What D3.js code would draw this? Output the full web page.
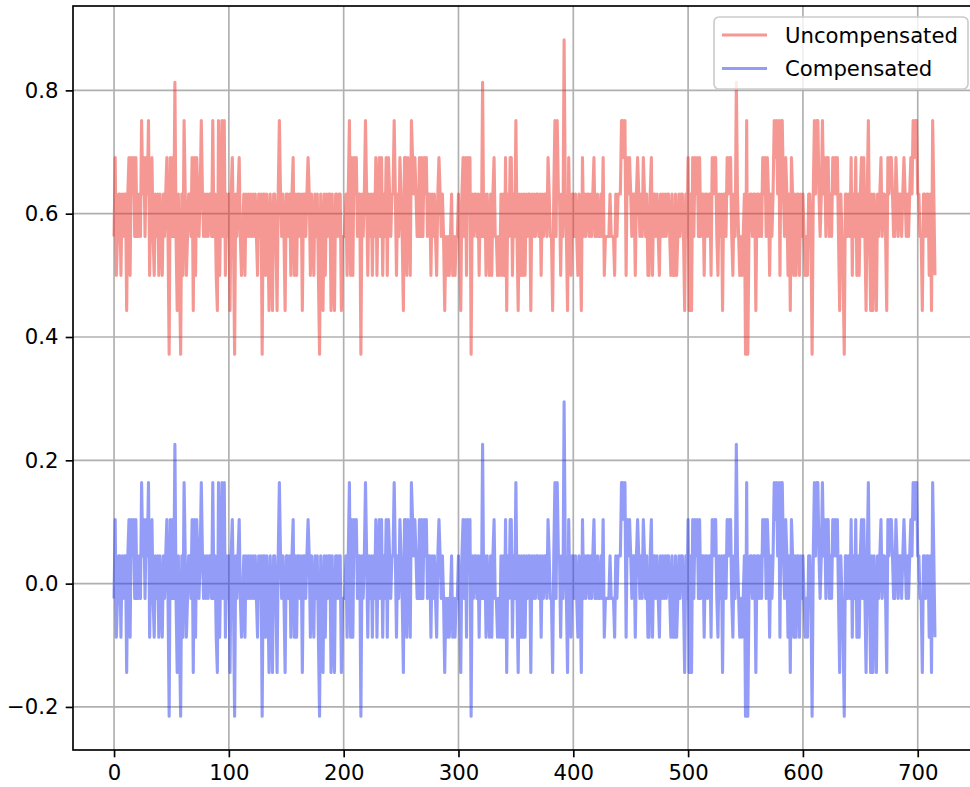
<!DOCTYPE html>
<html>
<head>
<meta charset="utf-8">
<script src="https://cdn.jsdelivr.net/npm/d3@7"></script>
<style>
  body { margin: 0; background: #fff; }
  svg { display: block; font-family: "DejaVu Sans", sans-serif; }
</style>
</head>
<body>
<div class="chart"></div>
<script>
// values (one sample per index)
var uncompensated = [
  0.563, 0.691, 0.5, 0.563, 0.632, 0.632, 0.5, 0.632, 0.563, 0.632, 0.632, 0.443, 0.632, 0.691, 0.5, 0.691, 0.632, 0.691, 0.563, 0.691,
  0.563, 0.563, 0.632, 0.563, 0.751, 0.632, 0.691, 0.563, 0.691, 0.632, 0.751, 0.5, 0.632, 0.691, 0.563, 0.5, 0.632, 0.563, 0.632, 0.5,
  0.632, 0.563, 0.5, 0.632, 0.563, 0.632, 0.691, 0.563, 0.372, 0.691, 0.563, 0.691, 0.563, 0.813, 0.563, 0.443, 0.632, 0.5, 0.372, 0.632,
  0.5, 0.751, 0.632, 0.5, 0.563, 0.632, 0.632, 0.563, 0.691, 0.443, 0.691, 0.5, 0.691, 0.632, 0.563, 0.632, 0.751, 0.632, 0.563, 0.632,
  0.563, 0.632, 0.563, 0.632, 0.632, 0.563, 0.751, 0.563, 0.632, 0.5, 0.443, 0.751, 0.5, 0.632, 0.751, 0.563, 0.751, 0.5, 0.632, 0.563,
  0.632, 0.443, 0.632, 0.691, 0.563, 0.372, 0.632, 0.563, 0.632, 0.691, 0.563, 0.5, 0.563, 0.632, 0.5, 0.632, 0.563, 0.632, 0.563, 0.632,
  0.563, 0.632, 0.563, 0.632, 0.563, 0.5, 0.632, 0.563, 0.632, 0.372, 0.632, 0.632, 0.5, 0.632, 0.563, 0.443, 0.632, 0.563, 0.443, 0.632,
  0.632, 0.563, 0.443, 0.632, 0.751, 0.632, 0.563, 0.632, 0.563, 0.443, 0.632, 0.632, 0.563, 0.632, 0.5, 0.632, 0.691, 0.5, 0.632, 0.5,
  0.632, 0.632, 0.563, 0.632, 0.443, 0.632, 0.632, 0.563, 0.632, 0.691, 0.632, 0.5, 0.632, 0.563, 0.5, 0.632, 0.563, 0.632, 0.5, 0.372,
  0.632, 0.563, 0.443, 0.632, 0.5, 0.632, 0.563, 0.632, 0.632, 0.443, 0.632, 0.5, 0.443, 0.632, 0.632, 0.563, 0.632, 0.632, 0.443, 0.563,
  0.563, 0.563, 0.632, 0.5, 0.632, 0.751, 0.5, 0.691, 0.5, 0.691, 0.632, 0.691, 0.563, 0.632, 0.632, 0.372, 0.632, 0.563, 0.632, 0.751,
  0.632, 0.5, 0.632, 0.563, 0.632, 0.5, 0.632, 0.563, 0.691, 0.5, 0.632, 0.691, 0.563, 0.691, 0.5, 0.632, 0.563, 0.691, 0.5, 0.691,
  0.632, 0.563, 0.632, 0.632, 0.751, 0.632, 0.5, 0.632, 0.563, 0.691, 0.632, 0.563, 0.443, 0.691, 0.691, 0.5, 0.691, 0.632, 0.5, 0.751,
  0.691, 0.632, 0.691, 0.632, 0.563, 0.563, 0.691, 0.563, 0.691, 0.563, 0.691, 0.632, 0.691, 0.563, 0.632, 0.632, 0.5, 0.632, 0.563, 0.632,
  0.563, 0.5, 0.632, 0.691, 0.632, 0.563, 0.632, 0.563, 0.443, 0.563, 0.5, 0.563, 0.5, 0.563, 0.632, 0.5, 0.563, 0.5, 0.563, 0.563,
  0.632, 0.563, 0.443, 0.632, 0.691, 0.563, 0.691, 0.5, 0.691, 0.632, 0.691, 0.372, 0.632, 0.563, 0.632, 0.632, 0.563, 0.632, 0.5, 0.632,
  0.563, 0.813, 0.563, 0.632, 0.5, 0.632, 0.563, 0.5, 0.632, 0.5, 0.632, 0.691, 0.563, 0.563, 0.5, 0.563, 0.5, 0.632, 0.5, 0.632,
  0.5, 0.691, 0.443, 0.632, 0.563, 0.691, 0.691, 0.5, 0.632, 0.563, 0.751, 0.563, 0.443, 0.632, 0.5, 0.632, 0.5, 0.632, 0.5, 0.632,
  0.563, 0.632, 0.632, 0.443, 0.632, 0.563, 0.632, 0.563, 0.632, 0.632, 0.563, 0.632, 0.5, 0.632, 0.563, 0.632, 0.632, 0.563, 0.691, 0.632,
  0.563, 0.563, 0.443, 0.632, 0.751, 0.563, 0.751, 0.632, 0.632, 0.5, 0.632, 0.563, 0.882, 0.632, 0.563, 0.443, 0.691, 0.563, 0.5, 0.632,
  0.632, 0.563, 0.632, 0.563, 0.5, 0.632, 0.563, 0.443, 0.691, 0.563, 0.632, 0.563, 0.632, 0.632, 0.563, 0.632, 0.563, 0.632, 0.691, 0.563,
  0.563, 0.632, 0.563, 0.563, 0.632, 0.563, 0.691, 0.5, 0.563, 0.563, 0.563, 0.563, 0.632, 0.563, 0.563, 0.563, 0.5, 0.632, 0.563, 0.632,
  0.632, 0.632, 0.751, 0.751, 0.691, 0.751, 0.5, 0.691, 0.632, 0.691, 0.632, 0.563, 0.632, 0.632, 0.5, 0.632, 0.691, 0.632, 0.563, 0.632,
  0.563, 0.691, 0.632, 0.563, 0.632, 0.5, 0.5, 0.632, 0.691, 0.5, 0.632, 0.632, 0.563, 0.632, 0.563, 0.5, 0.632, 0.563, 0.632, 0.563,
  0.632, 0.563, 0.632, 0.632, 0.563, 0.5, 0.632, 0.5, 0.5, 0.632, 0.5, 0.563, 0.632, 0.563, 0.632, 0.632, 0.563, 0.443, 0.632, 0.563,
  0.691, 0.443, 0.632, 0.443, 0.691, 0.563, 0.691, 0.632, 0.691, 0.563, 0.691, 0.563, 0.632, 0.632, 0.5, 0.632, 0.632, 0.563, 0.632, 0.632,
  0.5, 0.691, 0.632, 0.691, 0.691, 0.563, 0.5, 0.632, 0.563, 0.632, 0.443, 0.632, 0.632, 0.563, 0.691, 0.632, 0.691, 0.691, 0.563, 0.5,
  0.632, 0.563, 0.813, 0.632, 0.563, 0.5, 0.563, 0.5, 0.563, 0.632, 0.372, 0.751, 0.372, 0.563, 0.632, 0.632, 0.563, 0.632, 0.632, 0.443,
  0.632, 0.632, 0.563, 0.632, 0.563, 0.691, 0.632, 0.691, 0.563, 0.691, 0.632, 0.5, 0.632, 0.563, 0.632, 0.751, 0.691, 0.751, 0.632, 0.751,
  0.5, 0.751, 0.751, 0.632, 0.563, 0.691, 0.632, 0.5, 0.632, 0.443, 0.691, 0.632, 0.5, 0.632, 0.5, 0.632, 0.632, 0.5, 0.632, 0.563,
  0.632, 0.563, 0.5, 0.563, 0.5, 0.632, 0.632, 0.563, 0.372, 0.632, 0.751, 0.632, 0.751, 0.751, 0.632, 0.563, 0.632, 0.751, 0.632, 0.691,
  0.563, 0.691, 0.691, 0.563, 0.632, 0.563, 0.691, 0.632, 0.691, 0.632, 0.691, 0.563, 0.443, 0.632, 0.563, 0.5, 0.372, 0.632, 0.632, 0.563,
  0.632, 0.563, 0.691, 0.5, 0.632, 0.563, 0.691, 0.5, 0.632, 0.5, 0.632, 0.691, 0.563, 0.691, 0.563, 0.443, 0.632, 0.751, 0.563, 0.443,
  0.632, 0.443, 0.632, 0.563, 0.443, 0.632, 0.563, 0.632, 0.691, 0.563, 0.632, 0.632, 0.563, 0.443, 0.691, 0.632, 0.691, 0.691, 0.632, 0.563,
  0.563, 0.691, 0.632, 0.563, 0.632, 0.632, 0.563, 0.632, 0.691, 0.632, 0.563, 0.632, 0.563, 0.632, 0.691, 0.632, 0.751, 0.691, 0.751, 0.751,
  0.632, 0.632, 0.563, 0.563, 0.443, 0.632, 0.632, 0.563, 0.632, 0.632, 0.5, 0.632, 0.443, 0.751, 0.632, 0.5
];

var compensated = [
  -0.024, 0.104, -0.087, -0.024, 0.045, 0.045, -0.087, 0.045, -0.024, 0.045, 0.045, -0.144, 0.045, 0.104, -0.087, 0.104, 0.045, 0.104, -0.024, 0.104,
  -0.024, -0.024, 0.045, -0.024, 0.164, 0.045, 0.104, -0.024, 0.104, 0.045, 0.164, -0.087, 0.045, 0.104, -0.024, -0.087, 0.045, -0.024, 0.045, -0.087,
  0.045, -0.024, -0.087, 0.045, -0.024, 0.045, 0.104, -0.024, -0.215, 0.104, -0.024, 0.104, -0.024, 0.226, -0.024, -0.144, 0.045, -0.087, -0.215, 0.045,
  -0.087, 0.164, 0.045, -0.087, -0.024, 0.045, 0.045, -0.024, 0.104, -0.144, 0.104, -0.087, 0.104, 0.045, -0.024, 0.045, 0.164, 0.045, -0.024, 0.045,
  -0.024, 0.045, -0.024, 0.045, 0.045, -0.024, 0.164, -0.024, 0.045, -0.087, -0.144, 0.164, -0.087, 0.045, 0.164, -0.024, 0.164, -0.087, 0.045, -0.024,
  0.045, -0.144, 0.045, 0.104, -0.024, -0.215, 0.045, -0.024, 0.045, 0.104, -0.024, -0.087, -0.024, 0.045, -0.087, 0.045, -0.024, 0.045, -0.024, 0.045,
  -0.024, 0.045, -0.024, 0.045, -0.024, -0.087, 0.045, -0.024, 0.045, -0.215, 0.045, 0.045, -0.087, 0.045, -0.024, -0.144, 0.045, -0.024, -0.144, 0.045,
  0.045, -0.024, -0.144, 0.045, 0.164, 0.045, -0.024, 0.045, -0.024, -0.144, 0.045, 0.045, -0.024, 0.045, -0.087, 0.045, 0.104, -0.087, 0.045, -0.087,
  0.045, 0.045, -0.024, 0.045, -0.144, 0.045, 0.045, -0.024, 0.045, 0.104, 0.045, -0.087, 0.045, -0.024, -0.087, 0.045, -0.024, 0.045, -0.087, -0.215,
  0.045, -0.024, -0.144, 0.045, -0.087, 0.045, -0.024, 0.045, 0.045, -0.144, 0.045, -0.087, -0.144, 0.045, 0.045, -0.024, 0.045, 0.045, -0.144, -0.024,
  -0.024, -0.024, 0.045, -0.087, 0.045, 0.164, -0.087, 0.104, -0.087, 0.104, 0.045, 0.104, -0.024, 0.045, 0.045, -0.215, 0.045, -0.024, 0.045, 0.164,
  0.045, -0.087, 0.045, -0.024, 0.045, -0.087, 0.045, -0.024, 0.104, -0.087, 0.045, 0.104, -0.024, 0.104, -0.087, 0.045, -0.024, 0.104, -0.087, 0.104,
  0.045, -0.024, 0.045, 0.045, 0.164, 0.045, -0.087, 0.045, -0.024, 0.104, 0.045, -0.024, -0.144, 0.104, 0.104, -0.087, 0.104, 0.045, -0.087, 0.164,
  0.104, 0.045, 0.104, 0.045, -0.024, -0.024, 0.104, -0.024, 0.104, -0.024, 0.104, 0.045, 0.104, -0.024, 0.045, 0.045, -0.087, 0.045, -0.024, 0.045,
  -0.024, -0.087, 0.045, 0.104, 0.045, -0.024, 0.045, -0.024, -0.144, -0.024, -0.087, -0.024, -0.087, -0.024, 0.045, -0.087, -0.024, -0.087, -0.024, -0.024,
  0.045, -0.024, -0.144, 0.045, 0.104, -0.024, 0.104, -0.087, 0.104, 0.045, 0.104, -0.215, 0.045, -0.024, 0.045, 0.045, -0.024, 0.045, -0.087, 0.045,
  -0.024, 0.226, -0.024, 0.045, -0.087, 0.045, -0.024, -0.087, 0.045, -0.087, 0.045, 0.104, -0.024, -0.024, -0.087, -0.024, -0.087, 0.045, -0.087, 0.045,
  -0.087, 0.104, -0.144, 0.045, -0.024, 0.104, 0.104, -0.087, 0.045, -0.024, 0.164, -0.024, -0.144, 0.045, -0.087, 0.045, -0.087, 0.045, -0.087, 0.045,
  -0.024, 0.045, 0.045, -0.144, 0.045, -0.024, 0.045, -0.024, 0.045, 0.045, -0.024, 0.045, -0.087, 0.045, -0.024, 0.045, 0.045, -0.024, 0.104, 0.045,
  -0.024, -0.024, -0.144, 0.045, 0.164, -0.024, 0.164, 0.045, 0.045, -0.087, 0.045, -0.024, 0.295, 0.045, -0.024, -0.144, 0.104, -0.024, -0.087, 0.045,
  0.045, -0.024, 0.045, -0.024, -0.087, 0.045, -0.024, -0.144, 0.104, -0.024, 0.045, -0.024, 0.045, 0.045, -0.024, 0.045, -0.024, 0.045, 0.104, -0.024,
  -0.024, 0.045, -0.024, -0.024, 0.045, -0.024, 0.104, -0.087, -0.024, -0.024, -0.024, -0.024, 0.045, -0.024, -0.024, -0.024, -0.087, 0.045, -0.024, 0.045,
  0.045, 0.045, 0.164, 0.164, 0.104, 0.164, -0.087, 0.104, 0.045, 0.104, 0.045, -0.024, 0.045, 0.045, -0.087, 0.045, 0.104, 0.045, -0.024, 0.045,
  -0.024, 0.104, 0.045, -0.024, 0.045, -0.087, -0.087, 0.045, 0.104, -0.087, 0.045, 0.045, -0.024, 0.045, -0.024, -0.087, 0.045, -0.024, 0.045, -0.024,
  0.045, -0.024, 0.045, 0.045, -0.024, -0.087, 0.045, -0.087, -0.087, 0.045, -0.087, -0.024, 0.045, -0.024, 0.045, 0.045, -0.024, -0.144, 0.045, -0.024,
  0.104, -0.144, 0.045, -0.144, 0.104, -0.024, 0.104, 0.045, 0.104, -0.024, 0.104, -0.024, 0.045, 0.045, -0.087, 0.045, 0.045, -0.024, 0.045, 0.045,
  -0.087, 0.104, 0.045, 0.104, 0.104, -0.024, -0.087, 0.045, -0.024, 0.045, -0.144, 0.045, 0.045, -0.024, 0.104, 0.045, 0.104, 0.104, -0.024, -0.087,
  0.045, -0.024, 0.226, 0.045, -0.024, -0.087, -0.024, -0.087, -0.024, 0.045, -0.215, 0.164, -0.215, -0.024, 0.045, 0.045, -0.024, 0.045, 0.045, -0.144,
  0.045, 0.045, -0.024, 0.045, -0.024, 0.104, 0.045, 0.104, -0.024, 0.104, 0.045, -0.087, 0.045, -0.024, 0.045, 0.164, 0.104, 0.164, 0.045, 0.164,
  -0.087, 0.164, 0.164, 0.045, -0.024, 0.104, 0.045, -0.087, 0.045, -0.144, 0.104, 0.045, -0.087, 0.045, -0.087, 0.045, 0.045, -0.087, 0.045, -0.024,
  0.045, -0.024, -0.087, -0.024, -0.087, 0.045, 0.045, -0.024, -0.215, 0.045, 0.164, 0.045, 0.164, 0.164, 0.045, -0.024, 0.045, 0.164, 0.045, 0.104,
  -0.024, 0.104, 0.104, -0.024, 0.045, -0.024, 0.104, 0.045, 0.104, 0.045, 0.104, -0.024, -0.144, 0.045, -0.024, -0.087, -0.215, 0.045, 0.045, -0.024,
  0.045, -0.024, 0.104, -0.087, 0.045, -0.024, 0.104, -0.087, 0.045, -0.087, 0.045, 0.104, -0.024, 0.104, -0.024, -0.144, 0.045, 0.164, -0.024, -0.144,
  0.045, -0.144, 0.045, -0.024, -0.144, 0.045, -0.024, 0.045, 0.104, -0.024, 0.045, 0.045, -0.024, -0.144, 0.104, 0.045, 0.104, 0.104, 0.045, -0.024,
  -0.024, 0.104, 0.045, -0.024, 0.045, 0.045, -0.024, 0.045, 0.104, 0.045, -0.024, 0.045, -0.024, 0.045, 0.104, 0.045, 0.164, 0.104, 0.164, 0.164,
  0.045, 0.045, -0.024, -0.024, -0.144, 0.045, 0.045, -0.024, 0.045, 0.045, -0.087, 0.045, -0.144, 0.164, 0.045, -0.087
];

var seriesNames = ["Uncompensated", "Compensated"];
var seriesColors = ["rgb(235,50,40)", "rgb(40,60,240)"];

var xTicks = [0, 100, 200, 300, 400, 500, 600, 700];
var yTicks = [-0.2, 0.0, 0.2, 0.4, 0.6, 0.8];
var yTickLabels = ["\u22120.2", "0.0", "0.2", "0.4", "0.6", "0.8"];

var svgWidth = 970;
var svgHeight = 787;

// axes box (right edge falls just outside the picture, as in the reference)
var plot = { left: 73, top: 6, right: 976, bottom: 750 };

var fontSize = 21.2;
var lw = 1.67;

var svg = d3
  .select(".chart")
  .append("svg")
  .attr("width", svgWidth)
  .attr("height", svgHeight);

// matplotlib-like 5% margins around the data
var n = uncompensated.length;
var xPad = (n - 1) * 0.05;
var xScale = d3.scaleLinear()
  .domain([-xPad, n - 1 + xPad])
  .range([plot.left, plot.right]);

var yMin = d3.min(compensated);
var yMax = d3.max(uncompensated);
var yPad = (yMax - yMin) * 0.05;
var yScale = d3.scaleLinear()
  .domain([yMin - yPad, yMax + yPad])
  .range([plot.bottom, plot.top]);

svg.append("defs").append("clipPath").attr("id", "clip")
  .append("rect")
  .attr("x", plot.left).attr("y", plot.top)
  .attr("width", plot.right - plot.left)
  .attr("height", plot.bottom - plot.top);

// grid
var grid = svg.append("g").attr("class", "grid");
grid.selectAll(".vgrid").data(xTicks).enter().append("line")
  .attr("x1", function(d) { return xScale(d); })
  .attr("x2", function(d) { return xScale(d); })
  .attr("y1", plot.top).attr("y2", plot.bottom)
  .attr("stroke", "#b0b0b0").attr("stroke-width", lw);
grid.selectAll(".hgrid").data(yTicks).enter().append("line")
  .attr("x1", plot.left).attr("x2", plot.right)
  .attr("y1", function(d) { return yScale(d); })
  .attr("y2", function(d) { return yScale(d); })
  .attr("stroke", "#b0b0b0").attr("stroke-width", lw);

// series lines
var line = d3.line()
  .x(function(d, i) { return xScale(i); })
  .y(function(d) { return yScale(d); });

var seriesData = [uncompensated, compensated];
svg.append("g").attr("clip-path", "url(#clip)")
  .selectAll("path").data(seriesData).enter().append("path")
  .attr("d", line)
  .attr("fill", "none")
  .attr("stroke", function(d, i) { return seriesColors[i]; })
  .attr("stroke-opacity", 0.5)
  .attr("stroke-width", 3.1)
  .attr("stroke-linejoin", "round");

// axes
var bottomAxis = d3.axisBottom(xScale)
  .tickValues(xTicks)
  .tickSizeInner(7.3).tickSizeOuter(0).tickPadding(7.3)
  .tickFormat(d3.format("d"));
var leftAxis = d3.axisLeft(yScale)
  .tickValues(yTicks)
  .tickSizeInner(7.3).tickSizeOuter(0).tickPadding(7.3)
  .tickFormat(function(d, i) { return yTickLabels[i]; });

var gx = svg.append("g")
  .attr("transform", "translate(0," + plot.bottom + ")")
  .call(bottomAxis);
var gy = svg.append("g")
  .attr("transform", "translate(" + plot.left + ",0)")
  .call(leftAxis);

[gx, gy].forEach(function(g) {
  g.select(".domain").remove();
  g.selectAll(".tick line").attr("stroke", "#000").attr("stroke-width", lw);
  g.selectAll(".tick text")
    .attr("fill", "#000")
    .style("font-family", "'DejaVu Sans', sans-serif")
    .style("font-size", fontSize + "px");
});

// spines
svg.append("rect")
  .attr("x", plot.left).attr("y", plot.top)
  .attr("width", plot.right - plot.left)
  .attr("height", plot.bottom - plot.top)
  .attr("fill", "none")
  .attr("stroke", "#000")
  .attr("stroke-width", lw);

// legend
var legend = svg.append("g");
legend.append("rect")
  .attr("x", 714).attr("y", 17)
  .attr("width", 254).attr("height", 72)
  .attr("rx", 5)
  .attr("fill", "#fff").attr("fill-opacity", 0.8)
  .attr("stroke", "#cccccc").attr("stroke-width", lw);

var legendRows = legend.selectAll(".item").data(seriesNames).enter().append("g")
  .attr("transform", function(d, i) { return "translate(0," + (35 + i * 33.5) + ")"; });
legendRows.append("line")
  .attr("x1", 722).attr("x2", 767)
  .attr("y1", 0).attr("y2", 0)
  .attr("stroke", function(d, i) { return seriesColors[i]; })
  .attr("stroke-opacity", 0.5)
  .attr("stroke-width", 3.1);
legendRows.append("text")
  .attr("x", 785).attr("y", 0)
  .attr("dy", "0.36em")
  .style("font-size", fontSize + "px")
  .attr("fill", "#000")
  .text(function(d) { return d; });
</script>
</body>
</html>
